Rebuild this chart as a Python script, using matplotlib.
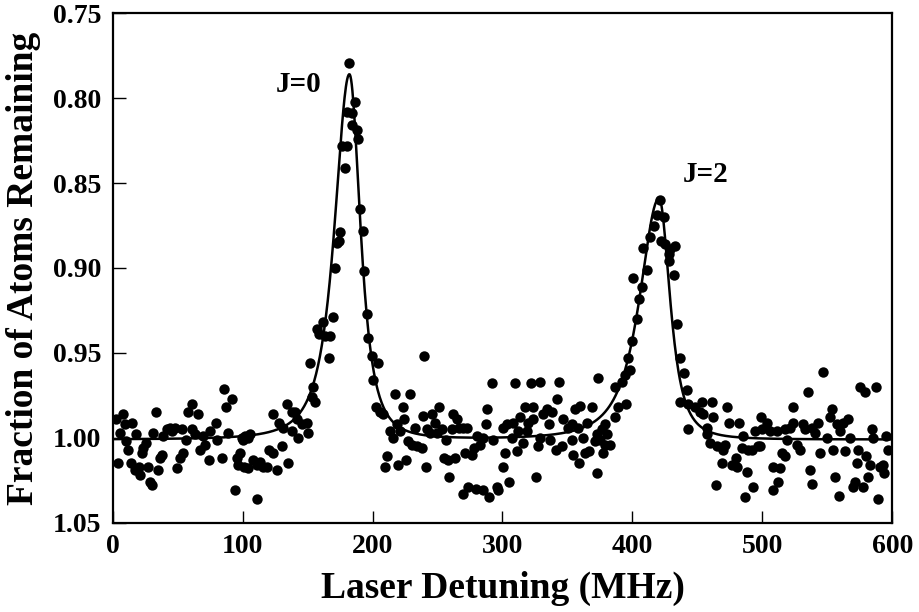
import numpy as np
import matplotlib.pyplot as plt

# Measured fraction of atoms remaining vs. laser detuning
detuning = [
    2.5, 7.7, 9.5, 5.6, 14.9, 17.9, 10.3, 11.8, 4.1, 14.1, 17.1, 20.2, 21.0, 22.5, 23.3,
    25.6, 27.2, 28.7, 30.3, 33.4, 31.0, 34.9, 36.4, 38.0, 38.8, 41.8, 44.1, 45.6, 47.9,
    49.5, 51.8, 54.1, 53.4, 56.5, 58.0, 61.1, 65.6, 61.1, 63.3, 67.2, 71.0, 69.5, 74.1,
    74.9, 79.5, 80.3, 84.2, 85.7, 87.3, 91.8, 88.7, 94.1, 95.7, 96.5, 98.0, 99.5,
    100.3, 101.9, 104.2, 105.7, 101.1, 104.2, 108.1, 111.1, 113.5, 115.8, 118.9, 120.4,
    123.5, 126.6, 130.5, 135.0, 123.5, 128.2, 131.3, 134.2, 138.1, 140.4, 138.1, 142.0,
    142.8, 145.8, 149.7, 150.5, 153.5, 155.8, 154.2, 111.1,
    182.1, 186.5, 184.0, 187.8, 189.1, 176.3, 180.2, 178.9, 190.4, 175.0, 174.5, 172.9,
    192.5, 171.2, 193.5, 196.0, 169.4, 162.1, 157.5, 159.0, 163.4, 167.3, 196.8, 199.4,
    204.5, 151.8, 166.7, 180.2, 184.0,
    200.4, 202.8, 205.9, 208.2, 217.3, 228.9, 223.5, 224.3, 213.5, 215.8, 218.9, 221.2,
    211.2, 209.6, 219.7, 225.9, 227.4, 230.5, 232.7, 234.3, 238.1, 238.9, 241.2, 242.0,
    245.9, 244.3, 248.2, 249.7, 251.3, 253.6, 255.1, 256.7, 258.2, 259.0, 261.2, 262.0,
    263.5, 265.1, 266.6, 269.7, 272.8, 271.3, 276.6, 278.1, 280.5, 282.8, 285.1, 292.8,
    269.7, 273.6, 279.7, 285.1, 289.7, 295.9, 296.7, 288.2, 287.4, 292.0, 300.6, 239.7,
    309.7, 322.0, 329.0, 343.7, 373.6, 342.1, 317.4, 323.5, 313.6, 308.2, 303.5, 319.7,
    323.5, 331.3, 334.4, 338.2, 335.9, 355.9, 359.8, 369.1, 346.7, 350.5, 353.6, 358.2,
    365.2, 311.9, 318.9, 307.4, 315.8, 329.0, 336.7, 327.4, 341.3, 346.0, 353.6, 362.1,
    311.2, 302.0, 354.4, 363.7, 366.7, 359.0, 300.6, 305.1, 325.8, 372.8, 372.8, 376.7,
    379.0, 371.3, 375.1, 379.0, 377.5, 382.9, 380.6, 386.7, 389.1, 395.3, 386.7, 392.2,
    394.5,
    420.9, 418.9, 424.0, 416.3, 413.7, 422.0, 425.3, 433.1, 429.2, 408.5, 427.9, 427.9,
    411.2, 431.7, 400.8, 407.3, 404.7, 403.4, 434.4, 399.6, 397.0, 436.9, 398.3, 440.0,
    442.1, 436.7, 442.9, 448.3, 453.7, 461.4, 452.2, 454.5, 462.1, 473.0, 474.5, 482.2,
    442.9, 457.6, 457.6, 485.3, 494.5, 499.1, 499.9, 459.9, 465.2, 471.4, 469.9, 484.6,
    489.2, 492.2, 496.8, 469.1, 476.8, 479.9, 480.7, 488.4, 464.4, 493.0, 486.9,
    503.8, 506.1, 511.5, 517.7, 521.6, 523.8, 523.8, 535.4, 547.0, 531.5, 533.1, 538.5,
    543.1, 540.8, 552.3, 553.8, 557.7, 562.3, 566.2, 560.0, 550.0, 567.8, 575.4, 579.3,
    587.8, 584.7, 585.4, 595.5, 498.4, 519.2, 527.0, 529.3, 515.4, 517.7, 544.7, 554.6,
    563.9, 573.8, 580.0, 596.9, 508.3, 513.7, 536.9, 573.1, 583.1, 590.9, 593.2, 593.9,
    512.2, 538.5, 556.2, 571.5, 570.0, 577.7, 581.6, 508.3, 559.3, 589.3,
]
fraction = [
    0.989, 0.986, 0.992, 0.997, 0.991, 0.998, 1.002, 1.007, 1.015, 1.015, 1.019, 1.017, 1.022, 1.009, 1.006,
    1.003, 1.017, 1.026, 1.028, 0.985, 0.997, 1.019, 1.012, 1.010, 0.999, 0.995, 0.994, 0.996, 0.994,
    1.018, 1.012, 1.009, 0.995, 1.001, 0.985, 0.980, 0.986, 0.995, 0.998, 1.007, 1.004, 0.999, 1.013,
    0.996, 0.991, 1.001, 1.012, 0.971, 0.982, 0.977, 0.997, 1.031, 1.012, 1.016, 1.009, 1.000,
    1.001, 0.999, 1.000, 0.998, 1.017, 1.018, 1.013, 1.016, 1.014, 1.017, 1.017, 1.007,
    1.009, 1.019, 1.005, 1.015, 0.986, 0.991, 0.994, 0.980, 0.985, 0.985, 0.996, 0.989,
    1.000, 0.992, 0.991, 0.997, 0.976, 0.979, 0.970, 1.036,
    0.779, 0.802, 0.816, 0.819, 0.824, 0.828, 0.828, 0.841, 0.865, 0.879, 0.884, 0.885,
    0.878, 0.900, 0.902, 0.927, 0.929, 0.932, 0.936, 0.939, 0.940, 0.940, 0.941, 0.952,
    0.956, 0.956, 0.953, 0.808, 0.809,
    0.966, 0.982, 0.985, 0.986, 0.974, 0.974, 0.982, 0.989, 0.996, 1.000, 0.992, 0.996,
    1.011, 1.017, 1.016, 1.013, 1.002, 1.004, 0.994, 1.005, 1.006, 0.987, 1.017, 0.995,
    0.986, 0.997, 0.991, 0.997, 0.982, 0.995, 1.012, 1.001, 1.013, 1.023, 0.995, 0.986,
    1.012, 0.989, 0.994, 0.994, 0.994, 1.009, 1.010, 1.006, 0.999, 1.004, 1.000, 1.001,
    1.033, 1.029, 1.030, 1.031, 1.035, 1.029, 1.031, 0.983, 0.992, 0.968, 0.994, 0.952,
    0.968, 0.968, 0.967, 0.967, 0.965, 0.977, 0.982, 0.982, 0.988, 0.991, 0.992, 0.991,
    0.989, 0.986, 0.983, 0.985, 0.992, 0.983, 0.981, 0.982, 0.989, 0.994, 0.992, 0.994,
    0.991, 0.996, 0.996, 1.000, 1.003, 1.000, 1.001, 1.005, 1.007, 1.005, 1.001, 1.000,
    1.008, 1.009, 1.010, 1.009, 1.008, 1.015, 1.017, 1.026, 1.023, 1.021, 0.998, 0.995,
    0.992, 1.002, 1.001, 1.004, 1.009, 1.004, 0.998, 0.988, 0.982, 0.980, 0.970, 0.967,
    0.963,
    0.860, 0.869, 0.870, 0.875, 0.882, 0.884, 0.886, 0.887, 0.889, 0.888, 0.892, 0.896,
    0.901, 0.904, 0.906, 0.911, 0.918, 0.930, 0.933, 0.943, 0.953, 0.953, 0.960, 0.962,
    0.972, 0.979, 0.980, 0.982, 0.979, 0.979, 0.985, 0.986, 0.988, 0.982, 0.991, 0.991,
    0.995, 0.994, 0.998, 0.999, 0.996, 0.988, 0.995, 1.003, 1.005, 1.004, 1.007, 1.006,
    1.007, 1.007, 1.005, 1.015, 1.016, 1.012, 1.017, 1.020, 1.028, 1.029, 1.035,
    0.991, 0.996, 0.996, 0.995, 0.994, 0.991, 0.982, 0.973, 0.961, 0.992, 0.995, 0.994,
    0.991, 0.997, 0.988, 0.983, 0.992, 0.991, 0.989, 0.996, 1.000, 1.000, 0.970, 0.973,
    0.970, 0.995, 1.000, 0.999, 1.005, 1.001, 1.004, 1.007, 1.009, 1.011, 1.009, 1.007,
    1.008, 1.007, 1.011, 1.007, 1.017, 1.018, 1.019, 1.015, 1.016, 1.017, 1.016, 1.021,
    1.026, 1.027, 1.023, 1.026, 1.029, 1.029, 1.023, 1.031, 1.034, 1.036,
]

# Fit parameters for the two resonances (J=0 and J=2)
baseline = 1.001
centers = [182.2, 420.5]
depths = [0.215, 0.142]
width_low = [17.5, 23.0]
width_high = [13.0, 13.0]
shape = 1.5

labels = ["J=0", "J=2"]
label_x = [143.4, 456.0]
label_y = [0.792, 0.845]

x_ticks = [0, 100, 200, 300, 400, 500, 600]
y_ticks = [0.75, 0.80, 0.85, 0.90, 0.95, 1.00, 1.05]


def fit_curve(x):
    y = np.full_like(x, baseline)
    for c, d, wl, wh in zip(centers, depths, width_low, width_high):
        w = np.where(x < c, wl, wh)
        y -= d / (1 + ((x - c) / w) ** 2) ** shape
    return y


plt.rcParams['font.family'] = ['Liberation Serif', 'DejaVu Serif']
plt.rcParams['font.weight'] = 'bold'

fig = plt.figure(figsize=(9.19, 6.12), dpi=100)
ax = fig.add_axes([0.1226, 0.1459, 0.8483, 0.8324])

xf = np.linspace(0, 600, 1201)
ax.plot(xf, fit_curve(xf), color='black', lw=1.8, zorder=2)
ax.plot(detuning, fraction, 'o', color='black', ms=7.5, mew=0, zorder=3)

for t, lx, ly in zip(labels, label_x, label_y):
    ax.text(lx, ly, t, ha='center', va='center', fontsize=21, fontweight='bold')

ax.set_xlim(0, 600)
ax.set_ylim(1.05, 0.75)
ax.set_xticks(x_ticks)
ax.set_yticks(y_ticks)
ax.set_yticklabels([f"{v:.2f}" for v in y_ticks])
ax.tick_params(direction='in', length=9, width=1, labelsize=20, pad=8)

for sp in ax.spines.values():
    sp.set_linewidth(1.6)

ax.set_xlabel("Laser Detuning (MHz)", fontsize=27, fontweight='bold', labelpad=9)
ax.set_ylabel("Fraction of Atoms Remaining", fontsize=27, fontweight='bold', labelpad=9)

plt.savefig("out.png", dpi=100)
